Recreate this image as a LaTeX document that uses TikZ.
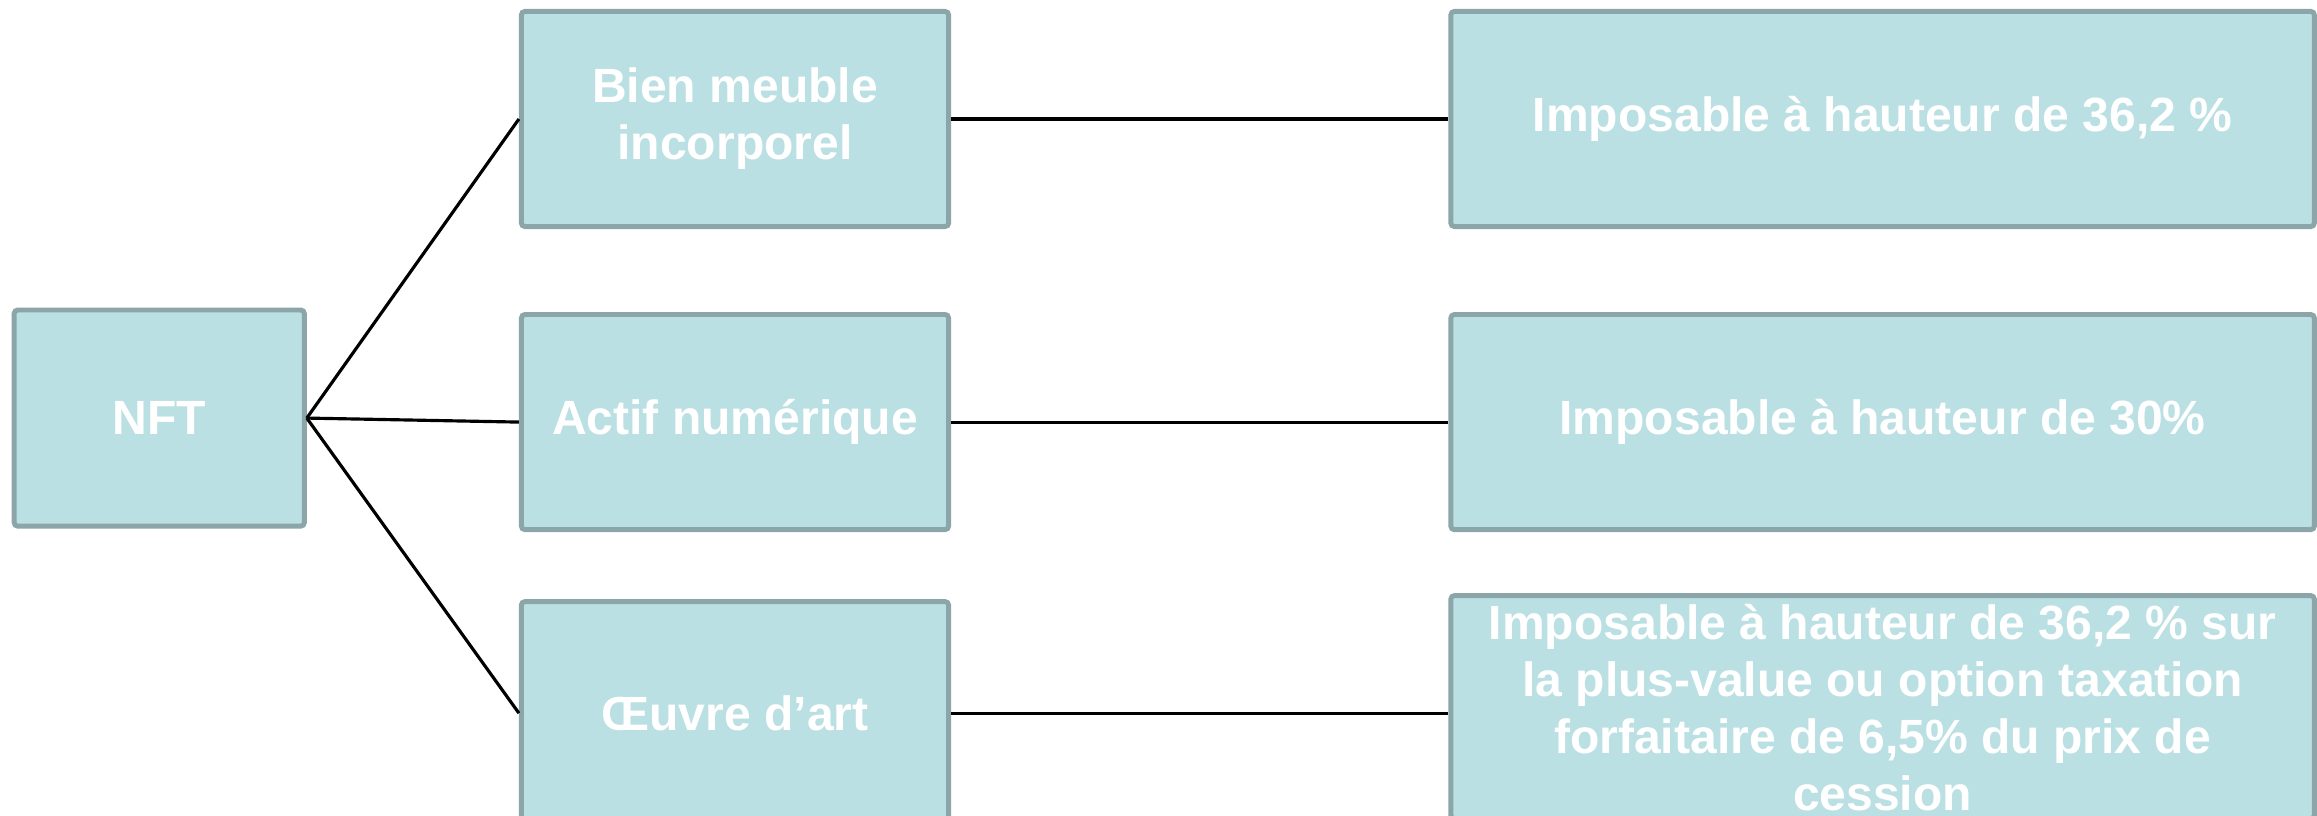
\documentclass[tikz,border=0pt]{standalone}
\usepackage{fontspec}
\setmainfont{Liberation Sans}
\usetikzlibrary{positioning}
\definecolor{bleuclair}{HTML}{BBE0E3}
\definecolor{grisbord}{HTML}{8BA5A8}
\begin{document}
\begin{tikzpicture}[x=0.01cm, y=-0.01cm]
        % Style des noeuds
        \tikzstyle{boite} = [rectangle, rounded corners=1pt, draw=grisbord, line width=1.4pt, fill=bleuclair, text=white, align=center, font=\bfseries\fontsize{13.66pt}{16.2pt}\selectfont]
        \tikzstyle{categorie} = [boite, minimum width=4.27cm, minimum height=2.15cm]
        \tikzstyle{regime} = [boite, minimum width=8.63cm, minimum height=2.15cm]
        \tikzstyle{lien} = [line width=0.9pt, black]

        \useasboundingbox (0,0) rectangle (2317,816);

        % Colonne du milieu
        \node (bien) [categorie] at (735,119) {Bien meuble\\incorporel};
        \node (actif) [categorie, below=0.83cm of bien] {Actif numérique};
        \node (oeuvre) [categorie, minimum height=2.23cm, below=0.67cm of actif] {Œuvre d’art};

        % Noeud de gauche
        \node (nft) [boite, minimum width=2.90cm, minimum height=2.16cm, left=2.12cm of actif, yshift=0.04cm] {NFT};

        % Colonne de droite
        \node (imp1) [regime, right=4.97cm of bien] {Imposable à hauteur de 36,2 \%};
        \node (imp2) [regime, right=4.97cm of actif] {Imposable à hauteur de 30\%};
        \node (imp3) [regime, minimum height=2.23cm, inner sep=0pt, right=4.97cm of oeuvre, yshift=0.06cm] {Imposable à hauteur de 36,2 \% sur\\la plus-value ou option taxation\\forfaitaire de 6,5\% du prix de\\cession};

        % Liens
        \draw [lien] (nft.east) -- (bien.west);
        \draw [lien] (nft.east) -- (actif.west);
        \draw [lien] (nft.east) -- (oeuvre.west);
        \draw [lien] (bien) -- (imp1);
        \draw [lien] (actif) -- (imp2);
        \draw [lien] (oeuvre.east) -- (oeuvre.east -| imp3.west);
    \end{tikzpicture}
\end{document}
